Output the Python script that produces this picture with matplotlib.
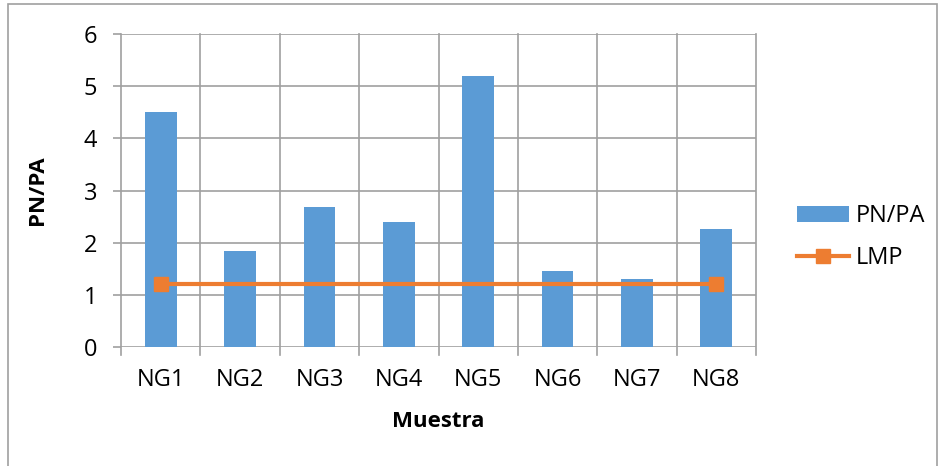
import matplotlib
matplotlib.use("Agg")
import matplotlib.pyplot as plt
from matplotlib.patches import Rectangle
import numpy as np

# data
muestras = ["NG1", "NG2", "NG3", "NG4", "NG5", "NG6", "NG7", "NG8"]
pn_pa = [4.5, 1.84, 2.68, 2.4, 5.2, 1.46, 1.3, 2.27]
lmp = [1.2, 1.2, 1.2, 1.2, 1.2, 1.2, 1.2, 1.2]
y_ticks = [0, 1, 2, 3, 4, 5, 6]

blue = "#5B9BD5"
orange = "#ED7D31"
grid = "#A0A0A0"

plt.rcParams["font.family"] = ["Open Sans", "DejaVu Sans"]

fig = plt.figure(figsize=(9.4, 4.66), dpi=100)
ax = fig.add_axes([121 / 940, 1 - 347 / 466, 635 / 940, 313 / 466])

x = np.arange(len(muestras))
bars = ax.bar(x, pn_pa, width=0.4, color=blue, label="PN/PA", zorder=3)
line, = ax.plot(x, lmp, color=orange, lw=3, marker="s", ms=10.5,
                markevery=[0, len(x) - 1], label="LMP", zorder=4)

ax.set_xlim(-0.5, len(x) - 0.5)
ax.set_ylim(0, 6)
ax.set_yticks(y_ticks)
ax.set_xticks(x)
ax.set_xticklabels(muestras)
ax.tick_params(axis="both", labelsize=17, color=grid, length=6, width=1.2)
ax.tick_params(axis="x", length=0, pad=15)
ax.tick_params(axis="y", pad=11)

# gridlines: horizontal at ticks, vertical at category boundaries
for yv in y_ticks:
    ax.axhline(yv, color=grid, lw=1.2, zorder=1)
bounds = np.arange(len(x) + 1) - 0.5
for b in bounds:
    ax.plot([b, b], [-0.15, 6], color=grid, lw=1.2, zorder=1, clip_on=False)
for s in ax.spines.values():
    s.set_visible(False)

ax.set_ylabel("PN/PA", fontsize=16, fontweight="bold", labelpad=26)
ax.set_xlabel("Muestra", fontsize=16, fontweight="bold", labelpad=14)

ax.legend([bars, line], ["PN/PA", "LMP"], loc="center left",
          bbox_to_anchor=(797 / 940, 1 - 237 / 466), bbox_transform=fig.transFigure,
          frameon=False, fontsize=17, handlelength=2.2, labelspacing=0.75,
          handletextpad=0.3, borderpad=0, borderaxespad=0)

# chart area border
fig.patches.append(Rectangle((8 / 940, -0.05), 929 / 940, 1.05 - 4 / 466,
                             transform=fig.transFigure, fill=False,
                             edgecolor=grid, lw=1.2))

fig.savefig("out.png", dpi=100)
